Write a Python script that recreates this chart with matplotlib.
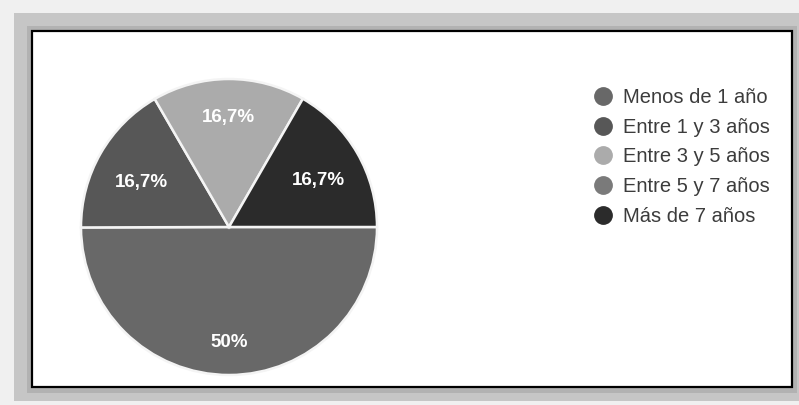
import matplotlib
matplotlib.use("Agg")
import numpy as np
import matplotlib.pyplot as plt
from matplotlib.patches import Rectangle
from matplotlib.lines import Line2D

plt.rcParams['font.family'] = ['Liberation Sans', 'DejaVu Sans']

categorias = ["Menos de 1 año", "Entre 1 y 3 años", "Entre 3 y 5 años",
              "Entre 5 y 7 años", "Más de 7 años"]
porcentajes = [50.0, 16.7, 16.7, 0.0, 16.7]
colores = ["#686868", "#575757", "#ababab", "#7a7a7a", "#2b2b2b"]

W, H = 799, 405
fig = plt.figure(figsize=(W / 100, H / 100), dpi=100)
fig.patch.set_facecolor("#f0f0f0")

# sombra y marco blanco alrededor del grafico
def rect_px(x0, y0, x1, y1, **kw):
    fig.patches.append(Rectangle((x0 / W, 1 - y1 / H), (x1 - x0) / W, (y1 - y0) / H,
                                 transform=fig.transFigure, figure=fig, **kw))

rect_px(14, 13, 799, 401, facecolor="#c6c6c6", edgecolor="none")
rect_px(27, 26, 797, 393, facecolor="#b2b2b2", edgecolor="none")
rect_px(32, 31, 792, 387, facecolor="white", edgecolor="black", linewidth=1.6)

cx, cy, r = 229, 227, 148
ax = fig.add_axes([(cx - r) / W, 1 - (cy + r) / H, 2 * r / W, 2 * r / H])
ax.set_zorder(2)

def fmt(p):
    return f"{p:.0f}%" if abs(p - 50) < 0.5 else f"{p:.1f}%".replace(".", ",")

valores = [v for v in porcentajes if v > 0]
cols = [c for v, c in zip(porcentajes, colores) if v > 0]
wedges, textos, autot = ax.pie(valores, colors=cols, startangle=0, counterclock=False,
                               autopct=fmt, pctdistance=0.72, radius=1,
                               wedgeprops=dict(edgecolor="#f4f4f4", linewidth=1.8))
# distancia de cada etiqueta al centro
dist = [0.78, 0.68, 0.74, 0.70]
for w, t, d in zip(wedges, autot, dist):
    ang = np.deg2rad((w.theta1 + w.theta2) / 2)
    t.set_position((d * np.cos(ang), d * np.sin(ang) - 0.04 * abs(np.cos(ang))))
    t.set_color("white")
    t.set_fontsize(13.5)
    t.set_fontweight("bold")
ax.set_xlim(-1, 1)
ax.set_ylim(-1, 1)
ax.set_aspect("auto")
ax.axis("off")

handles = [Line2D([], [], marker="o", linestyle="none", markersize=12.5,
                  markerfacecolor=c, markeredgecolor=c) for c in colores]
leg = fig.legend(handles, categorias, loc="upper left",
                 bbox_to_anchor=(583 / W, 1 - 88 / H), frameon=False,
                 fontsize=14.5, labelspacing=0.53, handletextpad=0.0,
                 borderaxespad=0, borderpad=0)
for t in leg.get_texts():
    t.set_color("#3c3c3c")
leg.set_zorder(3)

fig.savefig("out.png", dpi=100, facecolor=fig.get_facecolor())
